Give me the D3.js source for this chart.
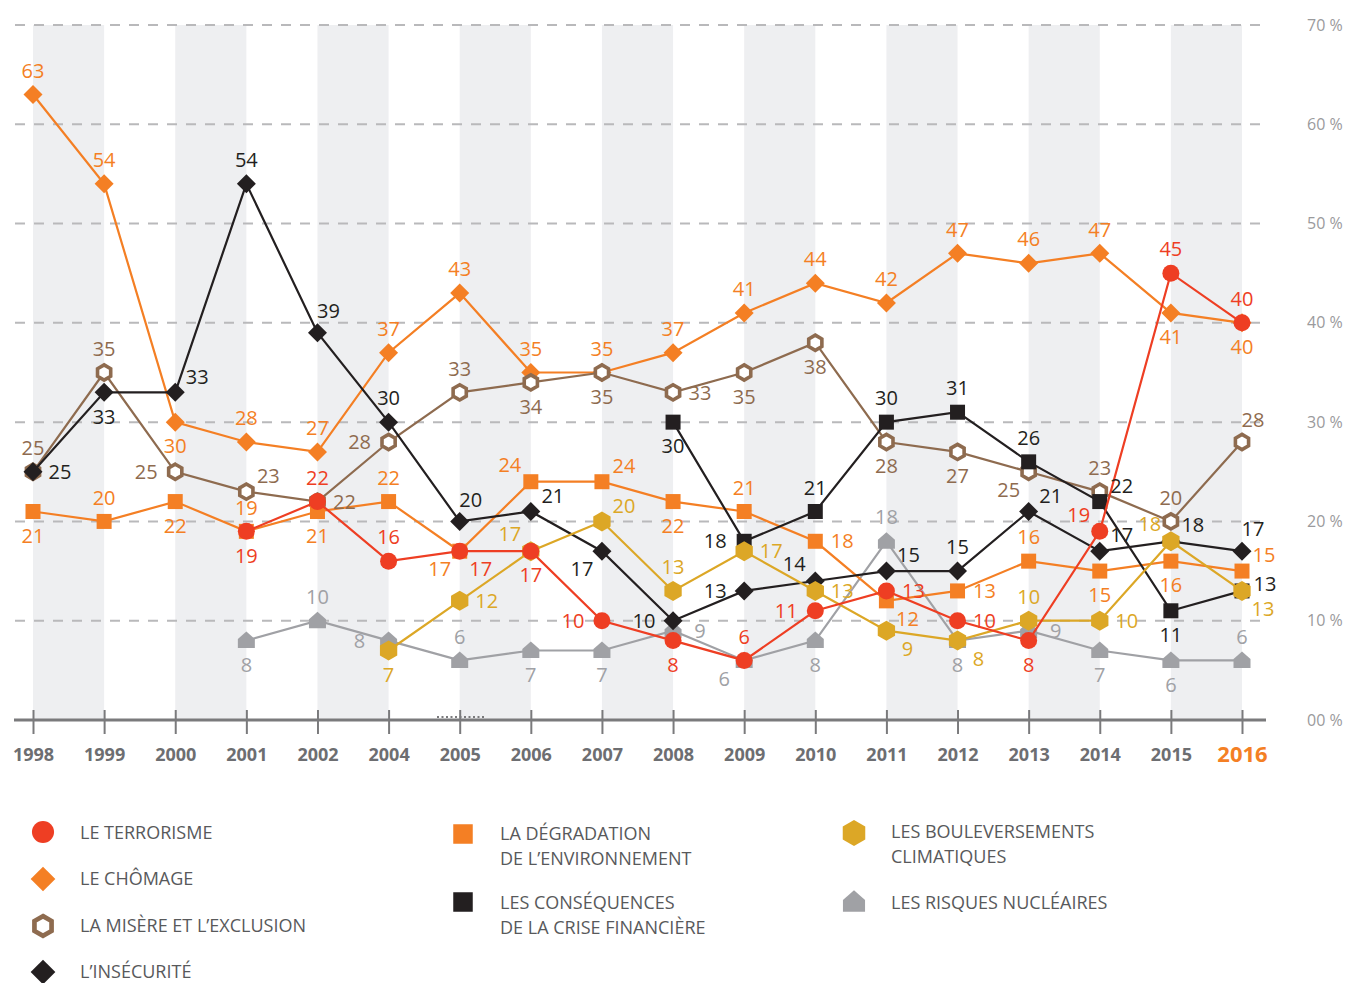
<!DOCTYPE html>
<html><head><meta charset="utf-8">
<script src="https://cdnjs.cloudflare.com/ajax/libs/d3/7.8.5/d3.min.js"></script>
<style>body{margin:0;background:#fff}svg{display:block;font-family:"Open Sans",sans-serif}</style>
</head><body><svg id="c" width="1351" height="983"></svg>
<script>
const years = ["1998","1999","2000","2001","2002","2004","2005","2006","2007","2008","2009","2010","2011","2012","2013","2014","2015","2016"];
const yTicks = [0,10,20,30,40,50,60,70];
const yTickLabels = ["00 %","10 %","20 %","30 %","40 %","50 %","60 %","70 %"];

const terrorisme   = [null,null,null,19,22,16,17,17,10,8,6,11,13,10,8,19,45,40];
const chomage      = [63,54,30,28,27,37,43,35,35,37,41,44,42,47,46,47,41,40];
const misere       = [25,35,25,23,22,28,33,34,35,33,35,38,28,27,25,23,20,28];
const insecurite   = [25,33,33,54,39,30,20,21,17,10,13,14,15,15,21,17,18,17];
const environnement= [21,20,22,19,21,22,17,24,24,22,21,18,12,13,16,15,16,15];
const crise        = [null,null,null,null,null,null,null,null,null,30,18,21,30,31,26,22,11,13];
const climat       = [null,null,null,null,null,7,12,17,20,13,17,13,9,8,10,10,18,13];
const nucleaire    = [null,null,null,8,10,8,6,7,7,9,6,8,18,8,9,7,6,6];

// label placement codes (t, b, l, r, tl, tr, bl, br, tR, rU)
const posTerrorisme   = ["","","","b","t","t","br","b","l","b","t","l","r","r","b","tl","t","t"];
const posChomage      = ["t","t","b","t","t","t","t","t","t","t","t","t","t","t","t","t","b","b"];
const posMisere       = ["t","t","l","tr","r","l","t","b","b","r","b","b","b","b","bl","t","t","tR"];
const posInsecurite   = ["r","b","tr","t","tR","t","tR","tr","bl","l","l","tl","tr","t","tr","tr","tr","tR"];
const posEnvironnement= ["b","t","b","t","b","t","bl","tl","tr","b","t","r","br","r","t","b","b","tr"];
const posCrise        = ["","","","","","","","","","b","l","t","t","t","t","tr","b","rU"];
const posClimat       = ["","","","","","b","r","tl","tr","t","r","r","br","br","t","r","tl","br"];
const posNucleaire    = ["","","","b","t","l","t","b","b","r","bl","b","t","b","r","b","b","t"];

const legendNames = {
  terrorisme:["LE TERRORISME"], chomage:["LE CHÔMAGE"], misere:["LA MISÈRE ET L’EXCLUSION"],
  insecurite:["L’INSÉCURITÉ"], environnement:["LA DÉGRADATION","DE L’ENVIRONNEMENT"],
  crise:["LES CONSÉQUENCES","DE LA CRISE FINANCIÈRE"], climat:["LES BOULEVERSEMENTS","CLIMATIQUES"],
  nucleaire:["LES RISQUES NUCLÉAIRES"]
};

const series = [
  {key:"nucleaire", values:nucleaire, pos:posNucleaire, color:"#a0a1a5", shape:"house"},
  {key:"chomage", values:chomage, pos:posChomage, color:"#f47f24", shape:"diamond"},
  {key:"misere", values:misere, pos:posMisere, color:"#8e6b4f", shape:"hexo"},
  {key:"environnement", values:environnement, pos:posEnvironnement, color:"#f47f24", shape:"square"},
  {key:"crise", values:crise, pos:posCrise, color:"#231f20", shape:"square"},
  {key:"insecurite", values:insecurite, pos:posInsecurite, color:"#231f20", shape:"diamond"},
  {key:"climat", values:climat, pos:posClimat, color:"#dca726", shape:"hex"},
  {key:"terrorisme", values:terrorisme, pos:posTerrorisme, color:"#ee3e23", shape:"circle"}
];

const svg = d3.select("#c");
const x = d3.scalePoint().domain(years).range([33, 1242]);
const y = d3.scaleLinear().domain([0,70]).range([720, 25]);

// bands
const bands = svg.append("g");
years.forEach((yr,i)=>{
  if(i%2===0 && i+1<years.length){
    bands.append("rect").attr("x",x(yr)).attr("y",y(70)).attr("width",x(years[i+1])-x(yr))
      .attr("height",y(0)-y(70)).attr("fill","#eeeff1");
  }
});
// grid
const grid = svg.append("g");
yTicks.filter(v=>v>0).forEach(v=>{
  grid.append("line").attr("x1",15).attr("x2",1262).attr("y1",y(v)).attr("y2",y(v))
    .attr("stroke","#b9b9bb").attr("stroke-width",2).attr("stroke-dasharray","10,9");
});
yTicks.forEach((v,i)=>{
  svg.append("text").attr("x",1307).attr("y",y(v)).attr("dy","0.35em")
    .attr("font-size",16).attr("fill","#9a9a9c").text(yTickLabels[i]);
});

// axis
const axisG = svg.append("g").attr("transform",`translate(0,${y(0)})`)
  .call(d3.axisBottom(x).tickSize(14).tickSizeOuter(0).tickPadding(14));
axisG.select(".domain").remove();
axisG.append("line").attr("x1",14).attr("x2",1266).attr("y1",0).attr("y2",0)
  .attr("stroke","#7a7a7c").attr("stroke-width",3);
axisG.selectAll(".tick line").attr("y1",-10).attr("y2",14).attr("stroke","#7a7a7c").attr("stroke-width",2);
axisG.selectAll(".tick text").attr("font-family","Open Sans").attr("font-weight","bold")
  .attr("font-size",18).attr("fill","#6d6e71");
axisG.selectAll(".tick text").filter(d=>d==="2016").attr("fill","#f47f24").attr("font-size",22).attr("dy","0.62em");
axisG.append("line").attr("x1",437).attr("x2",484).attr("y1",-3).attr("y2",-3)
  .attr("stroke","#7a7a7c").attr("stroke-width",2).attr("stroke-dasharray","2,2.5");

function hexPath(r){
  const pts=[];for(let k=0;k<6;k++){const a=Math.PI/3*k-Math.PI/2;pts.push([r*Math.cos(a),r*Math.sin(a)]);}
  return "M"+pts.map(p=>p.join(",")).join("L")+"Z";
}
function drawMarker(g, shape, color, s){
  if(shape==="circle") g.append("circle").attr("r",8.5*s).attr("fill",color);
  else if(shape==="diamond") g.append("path").attr("d",`M0,${-9.5*s}L${9.5*s},0L0,${9.5*s}L${-9.5*s},0Z`).attr("fill",color);
  else if(shape==="square") g.append("rect").attr("x",-7.5*s).attr("y",-7.5*s).attr("width",15*s).attr("height",15*s).attr("fill",color);
  else if(shape==="hex") g.append("path").attr("d",hexPath(10*s)).attr("fill",color);
  else if(shape==="hexo") g.append("path").attr("d",hexPath(7.6*s)).attr("fill","#fff").attr("stroke",color).attr("stroke-width",3.6*s);
  else if(shape==="house") g.append("path").attr("d",`M0,${-9*s}L${8.5*s},${-1.5*s}L${8.5*s},${7.5*s}L${-8.5*s},${7.5*s}L${-8.5*s},${-1.5*s}Z`).attr("fill",color);
}

const offsets = {t:[0,-24],b:[0,24],l:[-29,0],r:[27,0],tr:[22,-16],tl:[-21,-17],br:[21,18],bl:[-20,18],tR:[11,-22],rU:[23,-7]};
const line = d3.line().defined(d=>d.v!=null).x(d=>x(d.yr)).y(d=>y(d.v));

series.forEach(s=>{
  const pts = years.map((yr,i)=>({yr, v:s.values[i], p:s.pos[i]}));
  const g = svg.append("g");
  g.append("path").datum(pts).attr("d",line).attr("fill","none").attr("stroke",s.color).attr("stroke-width",2.2);
  pts.filter(d=>d.v!=null).forEach(d=>{
    const m = g.append("g").attr("transform",`translate(${x(d.yr)},${y(d.v)})`);
    drawMarker(m, s.shape, s.color, 1);
  });
});
const labels = svg.append("g");
series.forEach(s=>{
  years.forEach((yr,i)=>{
    const v=s.values[i]; if(v==null) return;
    const o=offsets[s.pos[i]]||[0,-24];
    labels.append("text").attr("x",x(yr)+o[0]).attr("y",y(v)+o[1]).attr("dy","0.36em")
      .attr("text-anchor","middle").attr("font-size",20).attr("fill",s.color).text(v);
  });
});

// legend
const legendLayout = [
  {key:"terrorisme", mx:43, my:832, ty:833},
  {key:"chomage", mx:43, my:879, ty:879},
  {key:"misere", mx:43, my:926, ty:926},
  {key:"insecurite", mx:43, my:972, ty:972},
  {key:"environnement", mx:463, my:834, ty:834},
  {key:"crise", mx:463, my:902, ty:903},
  {key:"climat", mx:854, my:833, ty:832},
  {key:"nucleaire", mx:854, my:902, ty:903}
];
const lg = svg.append("g");
legendLayout.forEach(L=>{
  const s = series.find(d=>d.key===L.key);
  const m = lg.append("g").attr("transform",`translate(${L.mx},${L.my})`);
  drawMarker(m, s.shape, s.color, 1.3);
  legendNames[L.key].forEach((t,j)=>{
    lg.append("text").attr("x",L.mx+37).attr("y",L.ty+j*24.5).attr("dy","0.35em")
      .attr("font-size",18).attr("fill","#58595b").text(t);
  });
});
</script></body></html>
